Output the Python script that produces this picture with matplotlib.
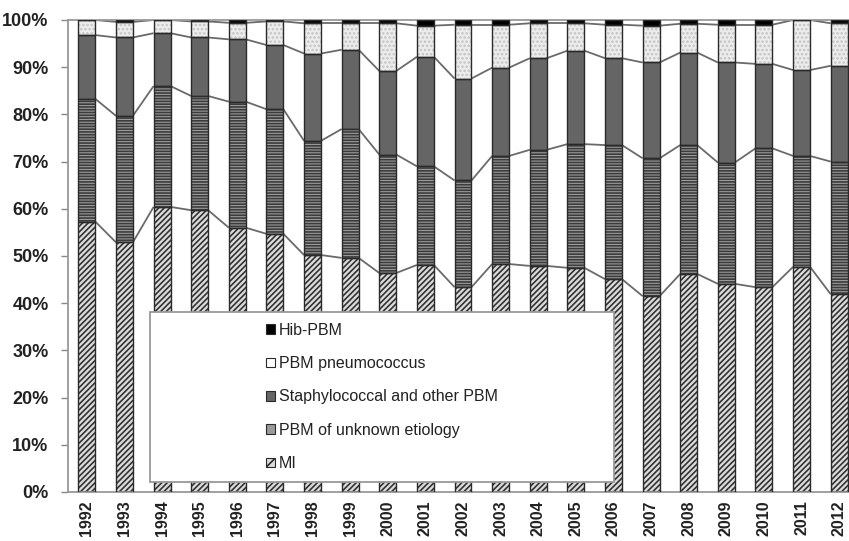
import matplotlib
matplotlib.use("Agg")
import matplotlib.pyplot as plt
import numpy as np
from matplotlib.patches import Patch, Rectangle

years = [str(y) for y in range(1992, 2013)]
mi = [57.3, 52.9, 60.4, 59.7, 56.0, 54.7, 50.2, 49.6, 46.4, 48.1, 43.4,
      48.3, 47.9, 47.5, 45.1, 41.5, 46.2, 44.1, 43.4, 47.7, 41.9]
unknown = [26.0, 26.8, 25.6, 24.2, 26.7, 26.4, 24.2, 27.3, 25.1, 20.9, 22.6,
           22.9, 24.6, 26.2, 28.4, 29.2, 27.3, 25.7, 29.4, 23.5, 28.1]
staph = [13.5, 16.6, 11.2, 12.4, 13.2, 13.6, 18.5, 16.8, 17.7, 23.2, 21.6,
         18.7, 19.4, 19.8, 18.4, 20.3, 19.6, 21.2, 17.9, 18.2, 20.3]
pneumo = [3.2, 3.3, 2.8, 3.4, 3.5, 5.0, 6.4, 5.6, 10.1, 6.6, 11.4,
          9.1, 7.4, 5.8, 7.1, 7.8, 6.1, 8.0, 8.3, 10.6, 9.0]
hib = [0.0, 0.4, 0.0, 0.3, 0.6, 0.3, 0.7, 0.7, 0.7, 1.2, 1.0,
       1.0, 0.7, 0.7, 1.0, 1.2, 0.8, 1.0, 1.0, 0.0, 0.7]

series_names = ["MI", "PBM of unknown etiology", "Staphylococcal and other PBM",
                "PBM pneumococcus", "Hib-PBM"]
series_vals = [mi, unknown, staph, pneumo, hib]
styles = [
    dict(facecolor="#dcdcdc", hatch="//////", hcolor="#333333"),
    dict(facecolor="#9a9a9a", hatch="------", hcolor="#3c3c3c"),
    dict(facecolor="#656565", hatch=None, hcolor="#656565"),
    dict(facecolor="#ececec", hatch="....", hcolor="#c4c4c4"),
    dict(facecolor="#000000", hatch=None, hcolor="#000000"),
]

plt.rcParams["font.family"] = ["Liberation Sans", "DejaVu Sans"]
plt.rcParams["hatch.linewidth"] = 1.2

fig = plt.figure(figsize=(8.49, 5.41), dpi=100)
ax = fig.add_axes([68 / 849, 49 / 541, 790 / 849, 472 / 541])

x = np.arange(len(years))
w = 0.45
bottom = np.zeros(len(years))
tops = []
for vals, st in zip(series_vals, styles):
    v = np.array(vals)
    ax.bar(x, v, w, bottom=bottom, color=st["facecolor"], edgecolor=st["hcolor"],
           hatch=st["hatch"], linewidth=0, zorder=2)
    ax.bar(x, v, w, bottom=bottom, fill=False, edgecolor="#2a2a2a",
           linewidth=1.0, zorder=3)
    bottom = bottom + v
    tops.append(bottom.copy())

# series lines
for t in tops[:4]:
    for i in range(len(x) - 1):
        ax.plot([x[i] + w / 2, x[i + 1] - w / 2], [t[i], t[i + 1]],
                color="#6a6a6a", lw=1.3, zorder=2.5, solid_capstyle="butt")

ax.set_xlim(-0.5, len(years) - 0.5)
ax.set_ylim(0, 100)
ax.set_yticks(range(0, 101, 10))
ax.set_yticklabels([f"{v}%" for v in range(0, 101, 10)], fontsize=13,
                   fontweight="bold", color="#222222")
ax.set_xticks(x)
ax.set_xticklabels(years, rotation=90, fontsize=11.5, fontweight="bold",
                   color="#222222")
ax.tick_params(axis="x", length=0, pad=6)
ax.tick_params(axis="y", length=5, width=1, color="#888888", pad=9)
for s in ["left", "bottom", "top", "right"]:
    ax.spines[s].set_color("#999999")
    ax.spines[s].set_linewidth(1.3)

# legend box
lx0, lx1 = (150 - 68) / 790, (614 - 68) / 790
ly0, ly1 = (492 - 482) / 472, (492 - 312) / 472
rect = Rectangle((lx0, ly0), lx1 - lx0, ly1 - ly0, transform=ax.transAxes,
                 facecolor="white", edgecolor="#999999", lw=1.3, zorder=10)
ax.add_patch(rect)

handles = []
for name, st in zip(series_names, styles):
    handles.append(Patch(facecolor=st["facecolor"] if name != "PBM pneumococcus" else "white",
                         edgecolor="#2a2a2a", hatch="///" if name == "MI" else None,
                         linewidth=0.8, label=name))
handles = handles[::-1]
leg = ax.legend(handles=handles, loc="center",
                bbox_to_anchor=((lx0 + lx1) / 2, (ly0 + ly1) / 2),
                bbox_transform=ax.transAxes, frameon=False, fontsize=11.5,
                handlelength=0.55, handleheight=0.55, handletextpad=0.25,
                labelspacing=1.15, borderpad=0)
leg.set_zorder(11)
for t in leg.get_texts():
    t.set_color("#222222")

fig.savefig("out.png", dpi=100)
